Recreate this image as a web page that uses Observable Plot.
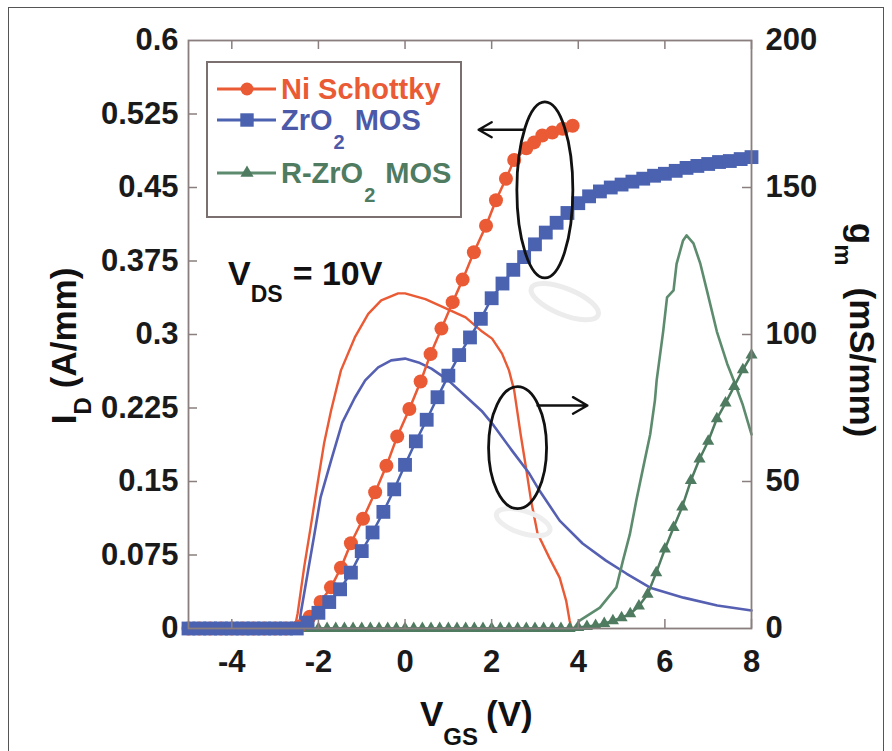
<!DOCTYPE html>
<html><head><meta charset="utf-8">
<script src="https://cdn.jsdelivr.net/npm/d3@7"></script>
<script src="https://cdn.jsdelivr.net/npm/@observablehq/plot@0.6"></script>
<style>
body{margin:0;background:#fff;}
#wrap{position:relative;width:892px;height:751px;overflow:hidden;background:#fff;}
#border{position:absolute;left:8px;top:7px;width:876px;height:780px;border:1.5px solid #555;box-sizing:border-box;}
#chart{position:absolute;left:0;top:0;}
</style></head><body>
<div id="wrap"><div id="border"></div><div id="chart"></div></div>
<script>
// ---- axis ticks ----
const xTicks = [-4, -2, 0, 2, 4, 6, 8];
const xTickLabels = ["-4", "-2", "0", "2", "4", "6", "8"];
const idTicks = [0, 0.075, 0.15, 0.225, 0.3, 0.375, 0.45, 0.525, 0.6];
const idTickLabels = ["0", "0.075", "0.15", "0.225", "0.3", "0.375", "0.45", "0.525", "0.6"];
const gmTicks = [0, 50, 100, 150, 200];
const gmTickLabels = ["0", "50", "100", "150", "200"];
const gmMax = 200, idMax = 0.6;

// ---- series names ----
const seriesNames = ["Ni Schottky", "ZrO2 MOS", "R-ZrO2 MOS"];

// ---- I_D (A/mm) : Ni Schottky (circles) ----
const niVgs = [-5, -4.75, -4.5, -4.25, -4, -3.75, -3.5, -3.25, -3, -2.75, -2.45, -2.2, -1.95, -1.71, -1.48, -1.25, -0.97, -0.69, -0.43, -0.18, 0.1, 0.36, 0.59, 0.84, 1.1, 1.33, 1.59, 1.87, 2.1, 2.33, 2.52, 2.8, 2.98, 3.17, 3.4, 3.64, 3.87];
const niId = [0, 0, 0, 0, 0, 0, 0, 0, 0, 0, 0.002, 0.012, 0.027, 0.042, 0.062, 0.087, 0.112, 0.139, 0.166, 0.196, 0.224, 0.252, 0.28, 0.306, 0.333, 0.356, 0.384, 0.411, 0.437, 0.459, 0.478, 0.49, 0.496, 0.503, 0.506, 0.51, 0.513];

// ---- I_D : ZrO2 MOS (squares) ----
const zrVgs = [-5, -4.75, -4.5, -4.25, -4, -3.75, -3.5, -3.25, -3, -2.75, -2.5, -2.25, -2, -1.75, -1.5, -1.25, -1, -0.75, -0.5, -0.25, 0, 0.25, 0.5, 0.75, 1, 1.25, 1.5, 1.75, 2, 2.25, 2.5, 2.75, 3, 3.25, 3.5, 3.75, 4, 4.25, 4.5, 4.75, 5, 5.25, 5.5, 5.75, 6, 6.25, 6.5, 6.75, 7, 7.25, 7.5, 7.75, 8];
const zrId = [0, 0, 0, 0, 0, 0, 0, 0, 0, 0, 0, 0.006, 0.016, 0.027, 0.04, 0.057, 0.079, 0.098, 0.119, 0.142, 0.167, 0.191, 0.213, 0.236, 0.258, 0.279, 0.297, 0.316, 0.337, 0.352, 0.366, 0.379, 0.392, 0.404, 0.414, 0.424, 0.434, 0.441, 0.446, 0.45, 0.453, 0.456, 0.459, 0.462, 0.464, 0.467, 0.47, 0.472, 0.474, 0.476, 0.477, 0.479, 0.481];

// ---- I_D : R-ZrO2 MOS (triangles) ----
const rzVgs = [-5, -4.8, -4.6, -4.4, -4.2, -4, -3.8, -3.6, -3.4, -3.2, -3, -2.8, -2.6, -2.4, -2.2, -2, -1.8, -1.6, -1.4, -1.2, -1, -0.8, -0.6, -0.4, -0.2, 0, 0.2, 0.4, 0.6, 0.8, 1, 1.2, 1.4, 1.6, 1.8, 2, 2.2, 2.4, 2.6, 2.8, 3, 3.2, 3.4, 3.6, 3.8, 4, 4.2, 4.4, 4.6, 4.8, 5, 5.2, 5.4, 5.6, 5.8, 6, 6.2, 6.4, 6.6, 6.8, 7, 7.2, 7.4, 7.6, 7.8, 8];
const rzId = [0, 0, 0, 0, 0, 0, 0, 0, 0, 0, 0, 0, 0, 0, 0, 0, 0, 0, 0, 0, 0, 0, 0, 0, 0, 0, 0, 0, 0, 0, 0, 0, 0, 0, 0, 0, 0, 0, 0, 0, 0, 0, 0, 0, 0, 0.001, 0.002, 0.003, 0.005, 0.008, 0.011, 0.015, 0.023, 0.035, 0.057, 0.081, 0.103, 0.124, 0.151, 0.173, 0.191, 0.214, 0.23, 0.247, 0.264, 0.279];

// ---- g_m (mS/mm) lines ----
const niGmVgs = [-5, -2.55, -2.48, -2.33, -2.18, -2.02, -1.87, -1.71, -1.48, -1.16, -0.85, -0.55, -0.16, 0, 0.47, 0.93, 1.4, 1.78, 2.01, 2.24, 2.4, 2.52, 2.59, 2.67, 2.79, 2.91, 3.06, 3.33, 3.57, 3.72, 3.8, 3.85];
const niGm = [0, 0, 5.1, 20.8, 34.4, 49.3, 62.9, 74, 87.8, 99, 107, 111.6, 114, 114, 112, 109, 105.8, 101, 98.6, 93.5, 87.8, 81, 74, 66, 55, 43.5, 32.3, 24.1, 17.3, 9.5, 2.7, 0];
const zrGmVgs = [-5, -2.45, -2.41, -2.25, -2.09, -1.95, -1.71, -1.45, -1.16, -0.92, -0.62, -0.32, 0, 0.31, 0.61, 1, 1.4, 1.77, 2.05, 2.47, 2.87, 3.1, 3.57, 4.1, 4.64, 5.11, 5.66, 6.43, 7.21, 8];
const zrGm = [0, 0, 5, 18.7, 32.3, 44.6, 57, 70, 78.5, 84.4, 88.8, 91.2, 91.8, 90.5, 88.4, 84.4, 79, 74, 69, 60.5, 52.7, 47, 36.7, 28.9, 23.1, 18.7, 13.9, 10.5, 7.8, 6.1];
const rzGmVgs = [-5, 3.9, 4.03, 4.5, 4.88, 5.03, 5.19, 5.34, 5.5, 5.66, 5.77, 5.81, 5.96, 6.05, 6.2, 6.27, 6.42, 6.5, 6.66, 6.82, 6.97, 7.2, 7.44, 7.6, 7.8, 8];
const rzGm = [0, 0, 2.7, 7.1, 14, 23, 32, 43.5, 54.8, 66, 77.6, 84.4, 101, 112.6, 115, 124, 132, 133.7, 131, 124, 115, 101, 90, 84, 76, 66];

// ---- annotations (data coordinates) ----
const arrowsAt = [
  {x1: 2.74, y1: 0.509, x2: 1.70, y2: 0.509},
  {x1: 3.06, y1: 0.2276, x2: 4.21, y2: 0.2276}
];
const ellipseCenters = [{x: 3.24, y: 0.447}, {x: 2.61, y: 0.184}];
const ghostCenters = [{x: 3.70, y: 0.333}, {x: 2.74, y: 0.108}];

// ---- build tables ----
const zip = (xs, ys) => xs.map((v, i) => ({v, y: ys[i]}));
const ni = zip(niVgs, niId), zr = zip(zrVgs, zrId), rz = zip(rzVgs, rzId);
const gmScale = idMax / gmMax;
const niG = zip(niGmVgs, niGm).map(d => ({v: d.v, y: d.y * gmScale}));
const zrG = zip(zrGmVgs, zrGm).map(d => ({v: d.v, y: d.y * gmScale}));
const rzG = zip(rzGmVgs, rzGm).map(d => ({v: d.v, y: d.y * gmScale}));

const RED = "#ea5a35", BLUE = "#4a62b0", BLUEL = "#5560b2", GREEN = "#4f7b60", GREENL = "#5d8b6e";
const FRAME = "#8a7e7e";
const ML = 188, MR = 141, MT = 40, MB = 123, WIDTH = 892, HEIGHT = 751;
const PW = WIDTH - ML - MR, PH = HEIGHT - MT - MB;
const FONT = "'Liberation Sans', Arial, Helvetica, sans-serif";

const plot = Plot.plot({
  width: WIDTH, height: HEIGHT,
  marginLeft: ML, marginRight: MR, marginTop: MT, marginBottom: MB,
  x: {domain: [-5, 8]},
  y: {domain: [0, idMax]},
  style: {fontFamily: FONT, fontWeight: "bold", fontSize: "31px", color: "#1a1a1a", background: "transparent", overflow: "visible"},
  marks: [
    Plot.axisX({ticks: xTicks, tickSize: 0, tickPadding: 21, label: null, tickFormat: d => xTickLabels[xTicks.indexOf(d)]}),
    Plot.axisY({ticks: idTicks, anchor: "left", tickSize: 0, tickPadding: 10, label: null, tickFormat: d => idTickLabels[idTicks.indexOf(d)]}),
    Plot.axisY({ticks: gmTicks.map(g => g * gmScale), anchor: "right", tickSize: 0, tickPadding: 14, label: null,
      tickFormat: d => gmTickLabels[gmTicks.indexOf(Math.round(d / gmScale))]}),
    // gm lines
    Plot.line(niG, {x: "v", y: "y", stroke: RED, strokeWidth: 2.4}),
    Plot.line(zrG, {x: "v", y: "y", stroke: BLUEL, strokeWidth: 2.6}),
    Plot.line(rzG, {x: "v", y: "y", stroke: GREENL, strokeWidth: 2.6}),
    // I_D series
    Plot.line(rz, {x: "v", y: "y", stroke: GREEN, strokeWidth: 2.5}),
    Plot.dot(rz, {x: "v", y: "y", symbol: "triangle", r: 4.5, fill: GREEN}),
    Plot.line(ni, {x: "v", y: "y", stroke: RED, strokeWidth: 2.5}),
    Plot.dot(ni, {x: "v", y: "y", r: 7, fill: RED}),
    Plot.line(zr, {x: "v", y: "y", stroke: BLUE, strokeWidth: 2.5}),
    Plot.dot(zr, {x: "v", y: "y", symbol: "square", r: 7.8, fill: BLUE}),
    // arrows
    Plot.arrow(arrowsAt, {x1: "x1", y1: "y1", x2: "x2", y2: "y2", stroke: "#111", strokeWidth: 2.4, headLength: 11}),
    // inward ticks
    Plot.tickY(idTicks.slice(1, -1), {y: d => d, insetRight: PW - 9, stroke: FRAME, strokeWidth: 1.5}),
    Plot.tickY(gmTicks.slice(1, -1).map(g => g * gmScale), {y: d => d, insetLeft: PW - 9, stroke: FRAME, strokeWidth: 1.5}),
    Plot.tickX(xTicks, {x: d => d, insetTop: PH - 9, stroke: FRAME, strokeWidth: 1.5}),
    Plot.tickX(xTicks, {x: d => d, insetBottom: PH - 9, stroke: FRAME, strokeWidth: 1.5}),
    Plot.frame({stroke: FRAME, strokeWidth: 1.8})
  ]
});
document.getElementById("chart").appendChild(plot);

const sx = plot.scale("x"), sy = plot.scale("y");
const svg = d3.select(plot);

// ellipses (ghost ones faint)
const ann = svg.append("g");
const g0 = ghostCenters.map(c => [sx.apply(c.x), sy.apply(c.y)]);
ann.append("ellipse").attr("cx", g0[0][0]).attr("cy", g0[0][1]).attr("rx", 36).attr("ry", 13)
  .attr("transform", `rotate(22 ${g0[0][0]} ${g0[0][1]})`).attr("fill", "none").attr("stroke", "#ececec").attr("stroke-width", 5);
ann.append("ellipse").attr("cx", g0[1][0]).attr("cy", g0[1][1]).attr("rx", 28).attr("ry", 11)
  .attr("transform", `rotate(18 ${g0[1][0]} ${g0[1][1]})`).attr("fill", "none").attr("stroke", "#eeeeee").attr("stroke-width", 5);
const e0 = ellipseCenters.map(c => [sx.apply(c.x), sy.apply(c.y)]);
ann.append("ellipse").attr("cx", e0[0][0]).attr("cy", e0[0][1]).attr("rx", 28).attr("ry", 88)
  .attr("fill", "none").attr("stroke", "#111").attr("stroke-width", 2.8);
ann.append("ellipse").attr("cx", e0[1][0]).attr("cy", e0[1][1]).attr("rx", 29).attr("ry", 61)
  .attr("fill", "none").attr("stroke", "#111").attr("stroke-width", 2.8);

// legend
const leg = svg.append("g").attr("font-family", FONT).attr("font-weight", "bold").attr("text-anchor", "start");
leg.append("rect").attr("x", 207).attr("y", 62).attr("width", 254).attr("height", 155)
  .attr("fill", "#fff").attr("stroke", "#7a7070").attr("stroke-width", 2);
const rows = [
  {y: 89, color: RED, text: RED, sym: d3.symbolCircle, size: Math.PI * 6.5 * 6.5},
  {y: 120, color: BLUE, text: "#4c58a8", sym: d3.symbolSquare, size: 180},
  {y: 173, color: GREEN, text: GREEN, sym: d3.symbolTriangle, size: 75}
];
rows.forEach((r, i) => {
  leg.append("line").attr("x1", 217).attr("x2", 276).attr("y1", r.y).attr("y2", r.y)
    .attr("stroke", i === 2 ? GREENL : r.color).attr("stroke-width", 3);
  leg.append("path").attr("d", d3.symbol(r.sym, r.size)()).attr("transform", `translate(247,${r.y})`).attr("fill", r.color);
  const name = seriesNames[i];
  const t = leg.append("text").attr("x", 281).attr("y", r.y + 10).attr("fill", r.text).attr("font-size", 29);
  const k = name.indexOf("O2");
  if (k < 0) { t.text(name); }
  else {
    t.append("tspan").text(name.slice(0, k + 1));
    t.append("tspan").attr("font-size", 20).attr("dy", 19).attr("dx", 1).text("2");
    t.append("tspan").attr("dy", -19).attr("dx", 10).text(name.slice(k + 3));
  }
});

// V_DS annotation
const vds = svg.append("text").attr("x", 228).attr("y", 285).attr("text-anchor", "start").attr("font-family", FONT).attr("font-weight", "bold").attr("font-size", 34).attr("fill", "#111");
vds.append("tspan").text("V");
vds.append("tspan").attr("font-size", 23).attr("dy", 17).text("DS");
vds.append("tspan").attr("dy", -17).attr("dx", 10).text("= 10V");

// axis titles
const xl = svg.append("text").attr("x", 420).attr("y", 726).attr("text-anchor", "start").attr("font-family", FONT).attr("font-weight", "bold").attr("font-size", 35).attr("fill", "#111");
xl.append("tspan").text("V");
xl.append("tspan").attr("font-size", 24).attr("dy", 19).text("GS");
xl.append("tspan").attr("dy", -19).attr("dx", 8).text("(V)");

const yl = svg.append("text").attr("transform", "translate(76,346) rotate(-90)").attr("text-anchor", "middle")
  .attr("font-family", FONT).attr("font-weight", "bold").attr("font-size", 35).attr("fill", "#111");
yl.append("tspan").text("I");
yl.append("tspan").attr("font-size", 24).attr("dy", 15).text("D");
yl.append("tspan").attr("dy", -15).attr("dx", 9).text("(A/mm)");

const yr = svg.append("text").attr("transform", "translate(850,330) rotate(90)").attr("text-anchor", "middle")
  .attr("font-family", FONT).attr("font-weight", "bold").attr("font-size", 35).attr("fill", "#111");
yr.append("tspan").text("g");
yr.append("tspan").attr("font-size", 24).attr("dy", 15).text("m");
yr.append("tspan").attr("dy", -15).attr("dx", 22).text("(mS/mm)");
</script>
</body></html>
